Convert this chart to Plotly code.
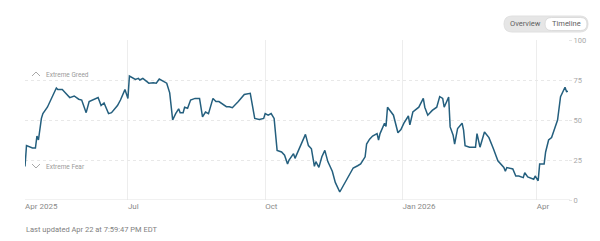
import plotly.graph_objects as go

dates = ["2025-04-23","2025-04-24","2025-04-28","2025-04-30","2025-05-01","2025-05-02","2025-05-04","2025-05-05",
"2025-05-08","2025-05-11","2025-05-14","2025-05-15","2025-05-18","2025-05-20","2025-05-23","2025-05-26","2025-05-29",
"2025-05-31","2025-06-03","2025-06-05","2025-06-11","2025-06-13","2025-06-15","2025-06-18","2025-06-20","2025-06-24",
"2025-06-26","2025-06-29","2025-07-01","2025-07-02","2025-07-06","2025-07-08","2025-07-09","2025-07-11","2025-07-13",
"2025-07-15","2025-07-18","2025-07-20","2025-07-22","2025-07-25","2025-07-27","2025-07-29","2025-07-31","2025-08-02",
"2025-08-04","2025-08-05","2025-08-07","2025-08-08","2025-08-10","2025-08-12","2025-08-15","2025-08-18","2025-08-20",
"2025-08-22","2025-08-24","2025-08-27","2025-08-29","2025-08-31","2025-09-05","2025-09-07","2025-09-09","2025-09-13",
"2025-09-15","2025-09-17","2025-09-21","2025-09-22","2025-09-24","2025-09-27","2025-09-30","2025-10-01","2025-10-03",
"2025-10-05","2025-10-07","2025-10-09","2025-10-12","2025-10-14","2025-10-16","2025-10-17","2025-10-20","2025-10-21",
"2025-10-24","2025-10-28","2025-10-30","2025-11-01","2025-11-03","2025-11-04","2025-11-06","2025-11-08","2025-11-10",
"2025-11-12","2025-11-15","2025-11-17","2025-11-20","2025-11-23","2025-11-27","2025-11-29","2025-12-02","2025-12-04",
"2025-12-07","2025-12-08","2025-12-10","2025-12-12","2025-12-15","2025-12-16","2025-12-17","2025-12-20","2025-12-21",
"2025-12-22","2025-12-26","2025-12-29","2025-12-31","2026-01-02","2026-01-05","2026-01-06","2026-01-08","2026-01-12",
"2026-01-15","2026-01-16","2026-01-18","2026-01-21","2026-01-24","2026-01-26","2026-01-28","2026-01-29","2026-02-01",
"2026-02-02","2026-02-04","2026-02-05","2026-02-07","2026-02-10","2026-02-11","2026-02-12","2026-02-15","2026-02-19",
"2026-02-20","2026-02-22","2026-02-25","2026-02-28","2026-03-03","2026-03-06","2026-03-10","2026-03-11","2026-03-12",
"2026-03-16","2026-03-18","2026-03-20","2026-03-23","2026-03-24","2026-03-26","2026-03-30","2026-03-31","2026-04-02",
"2026-04-03","2026-04-06","2026-04-07","2026-04-09","2026-04-11","2026-04-13","2026-04-15","2026-04-17","2026-04-19",
"2026-04-20","2026-04-21","2026-04-22"]

values = [21,34,32.5,32.5,40,37.5,51,54,
58,64,70,69,69,67,64,65,63,
62.5,54.6,61.5,64,59,60.6,54,54.6,59,
62.5,69,63.5,77.5,75.4,76,75,76,74.6,
73,73.3,73,75.6,74,73,67,50,54,
57,54.6,54.6,58,57.3,62.5,63.5,63.5,52,
55,54,63.5,61.5,61.5,58.3,58.3,57.7,61.5,
63.5,66,66.7,60.4,51,50.4,51,54,53,
54,51,31,30,28,22.5,25,29,26,
32,41,34,32,21,24,20.4,27,31,
24,18,11,5,9.7,16,20,21.4,22.5,
27,35,38,40,41.5,37.5,41.5,48,46,
58,53,42,44,48,52.5,47,55,58,
63.5,58,53,56,58,64.6,63.5,58,64.3,
45.7,40.5,35,44.7,48,43.7,34,33,33,
41.5,33,42.5,39,32,24.5,20.3,18,20.3,
19.4,15,15,14,17,14.4,13,15,12,
22.5,22.5,30,37.5,39,44.7,50,64.6,69,
70.5,67.7,68]

x_tick_vals = ["2025-04-23", "2025-07-01", "2025-10-01", "2026-01-01", "2026-04-01"]
x_tick_text = ["Apr 2025", "Jul", "Oct", "Jan 2026", "Apr"]
y_tick_vals = [0, 25, 50, 75, 100]
x_range = ["2025-04-23", "2026-04-22"]

W, H = 600, 241
L, R, T, B = 25, 568, 40, 200

def px(x):
    return (x - L) / (R - L)

def py(y):
    return (B - y) / (B - T)

fig = go.Figure()
fig.add_trace(go.Scatter(x=dates, y=values, mode="lines",
                         line=dict(color="#245f7e", width=1.5), hoverinfo="skip"))

fnt = "Roboto, Arial, sans-serif"
fig.update_layout(
    width=W, height=H,
    margin=dict(l=L, r=W - R, t=T, b=H - B),
    paper_bgcolor="white", plot_bgcolor="white",
    showlegend=False,
    font=dict(family=fnt, size=8, color="#888"),
    xaxis=dict(type="date", range=x_range, tickvals=x_tick_vals, ticktext=x_tick_text,
               ticklabelposition="outside right", showgrid=True, gridcolor="#ededed",
               gridwidth=1, zeroline=False, showline=False, ticks="",
               tickfont=dict(size=8, color="#8a8a8a", family=fnt)),
    yaxis=dict(range=[0, 100], tickvals=y_tick_vals, side="right", showgrid=True,
               gridcolor="#e8e8e8", griddash="dot", zeroline=False, showline=False,
               ticks="outside", ticklen=3, tickcolor="#e6e6e6",
               tickfont=dict(size=7.5, color="#a8a8a8", family=fnt)),
)

# baseline at 0
fig.add_shape(type="line", xref="paper", yref="y", x0=0, x1=px(R + 2), y0=0, y1=0,
              line=dict(color="#e3e3e3", width=1))

# Extreme Greed / Fear markers
caret_style = dict(color="#a8a8a8", width=1)
fig.add_shape(type="path", xref="paper", yref="paper",
              path=f"M {px(32)},{py(76)} L {px(36)},{py(72)} L {px(40)},{py(76)}",
              line=caret_style)
fig.add_shape(type="path", xref="paper", yref="paper",
              path=f"M {px(32)},{py(164)} L {px(36)},{py(168)} L {px(40)},{py(164)}",
              line=caret_style)
fig.add_annotation(text="Extreme Greed", xref="paper", yref="paper", x=px(44), y=py(74.5),
                   xanchor="left", yanchor="middle", showarrow=False,
                   font=dict(size=6.5, color="#9a9a9a", family=fnt))
fig.add_annotation(text="Extreme Fear", xref="paper", yref="paper", x=px(44), y=py(167),
                   xanchor="left", yanchor="middle", showarrow=False,
                   font=dict(size=6.5, color="#9a9a9a", family=fnt))

# toggle button
def rrect(x0, y0, x1, y1, r):
    return (f"M {px(x0 + r)},{py(y0)} L {px(x1 - r)},{py(y0)} Q {px(x1)},{py(y0)} {px(x1)},{py(y0 + r)} "
            f"L {px(x1)},{py(y1 - r)} Q {px(x1)},{py(y1)} {px(x1 - r)},{py(y1)} "
            f"L {px(x0 + r)},{py(y1)} Q {px(x0)},{py(y1)} {px(x0)},{py(y1 - r)} "
            f"L {px(x0)},{py(y0 + r)} Q {px(x0)},{py(y0)} {px(x0 + r)},{py(y0)} Z")

fig.add_shape(type="path", xref="paper", yref="paper", path=rrect(504, 16, 588, 32, 8),
              fillcolor="#e6e6e6", line=dict(color="#e0e0e0", width=1))
fig.add_shape(type="path", xref="paper", yref="paper", path=rrect(545, 17.5, 587, 30.5, 6.5),
              fillcolor="white", line=dict(color="#d6d6d6", width=0.8))
fig.add_annotation(text="Overview", xref="paper", yref="paper", x=px(525), y=py(24),
                   xanchor="center", yanchor="middle", showarrow=False,
                   font=dict(size=7.5, color="#606060", family=fnt))
fig.add_annotation(text="Timeline", xref="paper", yref="paper", x=px(566), y=py(24),
                   xanchor="center", yanchor="middle", showarrow=False,
                   font=dict(size=7.5, color="#606060", family=fnt))

fig.add_annotation(text="Last updated Apr 22 at 7:59:47 PM EDT", xref="paper", yref="paper",
                   x=px(24), y=py(229), xanchor="left", yanchor="middle", showarrow=False,
                   font=dict(size=7.5, color="#808080", family=fnt))

fig.write_html("out.html", config={"displayModeBar": False})
